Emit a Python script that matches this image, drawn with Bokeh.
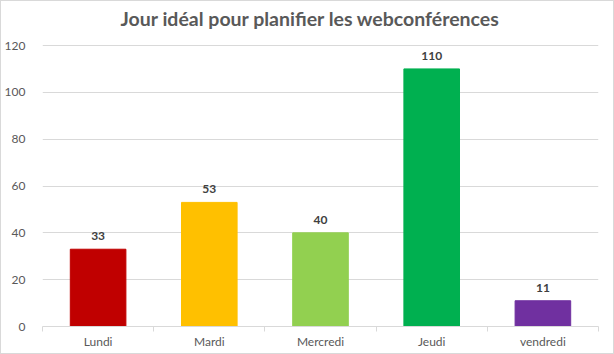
from bokeh.plotting import figure
from bokeh.models import ColumnDataSource, FixedTicker, Range1d, Label
from bokeh.core.properties import value
from bokeh.embed import file_html
from bokeh.resources import INLINE

categories = ["Lundi", "Mardi", "Mercredi", "Jeudi", "vendredi"]
values = [33, 53, 40, 110, 11]
colors = ["#C00000", "#FFC000", "#92D050", "#00B050", "#7030A0"]
y_ticks = [0, 20, 40, 60, 80, 100, 120]
title_text = "Jour idéal pour planifier les webconférences"

FONT = "Lato"
positions = [i + 0.5 for i in range(len(categories))]
source = ColumnDataSource(dict(x=positions, top=values, color=colors,
                               label=[str(v) for v in values]))

# frame extends to the top edge so the title (a Label) sits inside it;
# 120 stays at the same pixel height as in the reference
y_top = 120 + 44 * 120 / 281
p = figure(width=614, height=354, output_backend="svg", toolbar_location=None,
           x_range=Range1d(0, len(categories)), y_range=Range1d(0, y_top),
           min_border_left=37, min_border_right=17, min_border_top=0,
           min_border_bottom=29)
p.outline_line_color = None
p.background_fill_color = "white"
p.border_fill_color = "white"
p.styles = {"border": "1px solid #D9D9D9", "box-sizing": "border-box"}

p.add_layout(Label(x=2.41, y=131.5, text=title_text, text_align="center",
                   text_baseline="middle", text_font=FONT, text_font_size="19.5px",
                   text_font_style="bold", text_color="#595959"))

p.vbar(x="x", top="top", bottom=0, width=0.5, color="color", source=source)
p.text(x="x", y="top", text="label", source=source, text_align="center",
       text_baseline="bottom", y_offset=-9, text_font=value(FONT),
       text_font_size="12px", text_font_style="bold", text_color="#404040")

p.xaxis.ticker = FixedTicker(ticks=positions, minor_ticks=list(range(len(categories) + 1)))
p.xaxis.major_label_overrides = {pos: c for pos, c in zip(positions, categories)}
p.xaxis.major_tick_line_color = None
p.xaxis.minor_tick_line_color = "#D9D9D9"
p.xaxis.minor_tick_out = 5
p.xaxis.minor_tick_in = 0
p.xaxis.axis_line_color = "#D9D9D9"
p.xaxis.major_label_text_font = FONT
p.xaxis.major_label_text_font_size = "12px"
p.xaxis.major_label_text_color = "#595959"
p.xaxis.major_label_standoff = 1
p.xgrid.grid_line_color = None

p.yaxis.ticker = FixedTicker(ticks=y_ticks)
p.yaxis.axis_line_color = None
p.yaxis.major_tick_line_color = None
p.yaxis.minor_tick_line_color = None
p.yaxis.major_label_text_font = FONT
p.yaxis.major_label_text_font_size = "12px"
p.yaxis.major_label_text_color = "#595959"
p.yaxis.major_label_standoff = 11
p.ygrid.grid_line_color = "#D9D9D9"

open("out.html", "w").write(file_html(p, INLINE))
